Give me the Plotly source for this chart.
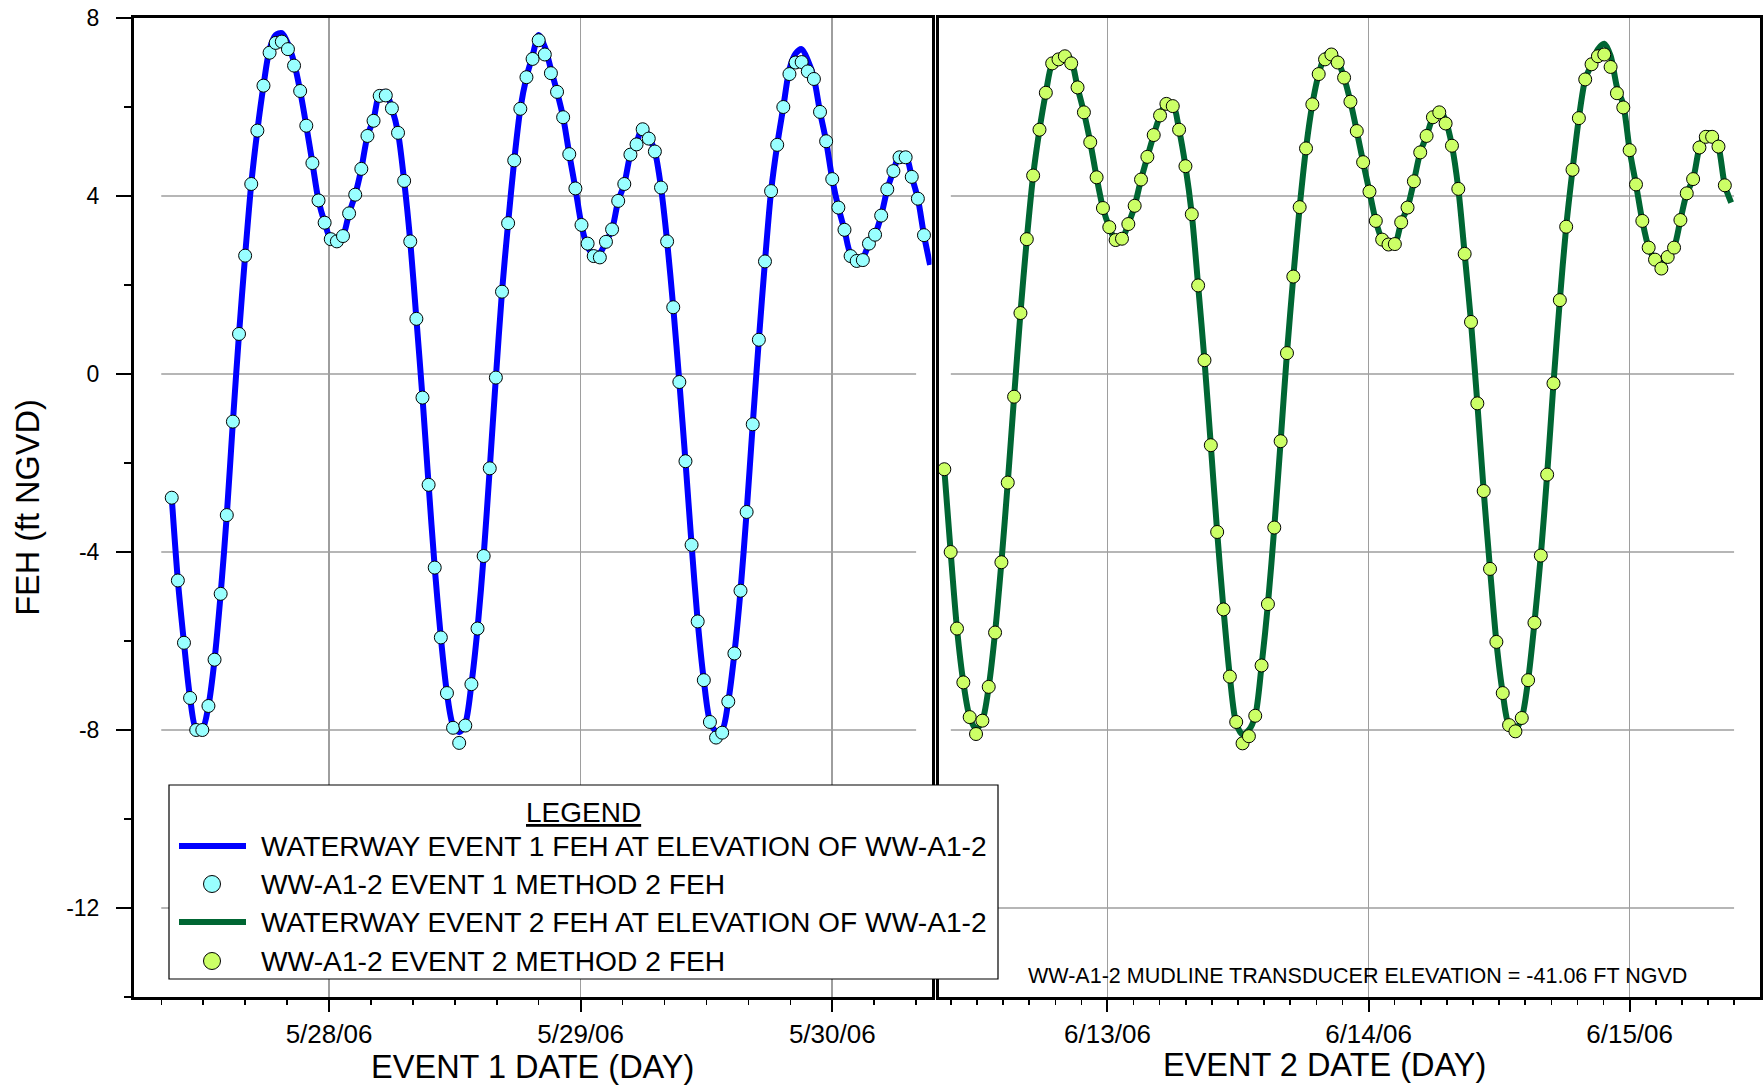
import pandas as pd
import plotly.graph_objects as go

# ---------------- data ----------------
E1_START = "2006-05-27 09:00"
E2_START = "2006-06-12 09:00"
STEP = "35min"

E1_METHOD2 = [
    -2.78, -4.64, -6.04, -7.28, -8.00, -8.00, -7.46, -6.42, -4.94, -3.17,
    -1.07, 0.90, 2.66, 4.27, 5.47, 6.48, 7.22, 7.44, 7.47, 7.30,
    6.93, 6.36, 5.58, 4.74, 3.90, 3.40, 3.03, 2.98, 3.10, 3.61,
    4.03, 4.61, 5.35, 5.69, 6.25, 6.26, 5.97, 5.42, 4.34, 2.98,
    1.24, -0.53, -2.49, -4.35, -5.92, -7.17, -7.95, -8.29, -7.90, -6.97,
    -5.72, -4.09, -2.12, -0.08, 1.85, 3.39, 4.80, 5.96, 6.67, 7.08,
    7.50, 7.18, 6.76, 6.34, 5.77, 4.94, 4.17, 3.35, 2.93, 2.65,
    2.62, 2.97, 3.25, 3.89, 4.27, 4.93, 5.16, 5.50, 5.29, 5.00,
    4.19, 2.98, 1.50, -0.18, -1.96, -3.84, -5.56, -6.88, -7.82, -8.17,
    -8.06, -7.36, -6.28, -4.87, -3.10, -1.13, 0.77, 2.53, 4.11, 5.15,
    6.00, 6.74, 7.00, 7.01, 6.80, 6.63, 5.89, 5.23, 4.38, 3.74,
    3.24, 2.65, 2.54, 2.56, 2.93, 3.13, 3.56, 4.15, 4.56, 4.87,
    4.87, 4.43, 3.94, 3.12,
]

E1_WATERWAY = [
    -2.78, -4.64, -6.04, -7.28, -7.98, -7.98, -7.46, -6.42, -4.94, -3.17,
    -1.07, 0.90, 2.66, 4.27, 5.47, 6.48, 7.30, 7.62, 7.66, 7.42,
    7.00, 6.36, 5.58, 4.74, 3.90, 3.40, 3.03, 2.98, 3.10, 3.61,
    4.03, 4.61, 5.35, 5.72, 6.30, 6.32, 5.97, 5.42, 4.34, 2.98,
    1.24, -0.53, -2.49, -4.35, -5.92, -7.17, -7.90, -8.05, -7.85, -6.97,
    -5.72, -4.09, -2.12, -0.08, 1.85, 3.39, 4.80, 5.96, 6.67, 7.15,
    7.62, 7.35, 6.85, 6.34, 5.77, 4.94, 4.17, 3.35, 2.85, 2.70,
    2.72, 2.97, 3.25, 3.89, 4.27, 4.93, 5.20, 5.56, 5.33, 5.00,
    4.19, 2.98, 1.50, -0.18, -1.96, -3.84, -5.56, -6.88, -7.80, -8.03,
    -8.00, -7.36, -6.28, -4.87, -3.10, -1.13, 0.77, 2.53, 4.11, 5.15,
    6.00, 6.85, 7.20, 7.30, 7.05, 6.65, 5.89, 5.23, 4.38, 3.74,
    3.24, 2.70, 2.62, 2.62, 2.93, 3.13, 3.56, 4.15, 4.56, 4.92,
    4.92, 4.43, 3.94, 3.12, 2.45,
]

E2_METHOD2 = [
    -2.14, -4.00, -5.72, -6.93, -7.71, -8.09, -7.79, -7.03, -5.81, -4.23,
    -2.44, -0.51, 1.37, 3.03, 4.46, 5.49, 6.32, 6.98, 7.07, 7.14,
    6.98, 6.44, 5.88, 5.21, 4.42, 3.73, 3.30, 3.01, 3.04, 3.37,
    3.78, 4.37, 4.88, 5.37, 5.81, 6.07, 6.02, 5.49, 4.67, 3.59,
    1.99, 0.31, -1.60, -3.55, -5.29, -6.80, -7.82, -8.30, -8.14, -7.68,
    -6.55, -5.17, -3.45, -1.51, 0.47, 2.19, 3.75, 5.07, 6.06, 6.74,
    7.07, 7.18, 7.00, 6.66, 6.12, 5.46, 4.76, 4.10, 3.44, 3.02,
    2.91, 2.92, 3.41, 3.74, 4.33, 4.98, 5.35, 5.77, 5.88, 5.63,
    5.13, 4.16, 2.70, 1.17, -0.66, -2.63, -4.38, -6.02, -7.17, -7.89,
    -8.03, -7.73, -6.88, -5.59, -4.08, -2.26, -0.21, 1.66, 3.31, 4.59,
    5.75, 6.62, 6.96, 7.14, 7.18, 6.90, 6.31, 5.99, 5.03, 4.26,
    3.44, 2.84, 2.57, 2.37, 2.63, 2.84, 3.46, 4.06, 4.38, 5.09,
    5.33, 5.33, 5.11, 4.24,
]

E2_WATERWAY = [
    -2.14, -4.00, -5.72, -6.93, -7.71, -7.98, -7.79, -7.03, -5.81, -4.23,
    -2.44, -0.51, 1.37, 3.03, 4.46, 5.49, 6.32, 6.98, 7.12, 7.20,
    7.05, 6.44, 5.88, 5.21, 4.42, 3.73, 3.30, 3.01, 3.04, 3.37,
    3.78, 4.37, 4.88, 5.37, 5.81, 6.10, 6.08, 5.49, 4.67, 3.59,
    1.99, 0.31, -1.60, -3.55, -5.29, -6.80, -7.85, -8.10, -8.00, -7.68,
    -6.55, -5.17, -3.45, -1.51, 0.47, 2.19, 3.75, 5.07, 6.06, 6.74,
    7.15, 7.25, 7.05, 6.66, 6.12, 5.46, 4.76, 4.10, 3.44, 3.02,
    2.91, 2.92, 3.41, 3.74, 4.33, 4.98, 5.35, 5.77, 5.95, 5.70,
    5.13, 4.16, 2.70, 1.17, -0.66, -2.63, -4.38, -6.02, -7.17, -7.90,
    -7.98, -7.73, -6.88, -5.59, -4.08, -2.26, -0.21, 1.66, 3.31, 4.59,
    5.75, 6.62, 6.96, 7.30, 7.42, 7.15, 6.45, 6.05, 5.03, 4.26,
    3.44, 2.84, 2.57, 2.45, 2.63, 2.84, 3.46, 4.06, 4.38, 5.09,
    5.40, 5.40, 5.11, 4.24, 3.85,
]

LEGEND_LABELS = [
    "WATERWAY EVENT 1 FEH AT ELEVATION OF WW-A1-2",
    "WW-A1-2 EVENT 1 METHOD 2 FEH",
    "WATERWAY EVENT 2 FEH AT ELEVATION OF WW-A1-2",
    "WW-A1-2 EVENT 2 METHOD 2 FEH",
]
X1_TITLE = "EVENT 1 DATE (DAY)"
X2_TITLE = "EVENT 2 DATE (DAY)"
Y_TITLE = "FEH (ft NGVD)"
NOTE = "WW-A1-2 MUDLINE TRANSDUCER ELEVATION = -41.06 FT NGVD"
Y_TICKS = [-12, -8, -4, 0, 4, 8]
Y_TICK_TEXT = ["-12", "-8", "-4", "0", "4", "8"]

X1_RANGE = ["2006-05-27 05:24", "2006-05-30 09:28"]
X2_RANGE = ["2006-06-12 08:28", "2006-06-15 11:59"]
Y_RANGE = [-14, 8]
# horizontal grid lines run from the first to the last minor date tick
GRID_SPAN1 = ["2006-05-27 08:00", "2006-05-30 08:00"]
GRID_SPAN2 = ["2006-06-12 09:36", "2006-06-15 09:36"]

# ---------------- styles ----------------
BLUE = "#0000FF"
GREEN = "#006633"
CYAN = "#99FFFF"
LIME = "#CCFF66"
GRID = "#9E9E9E"
FONT = "Liberation Sans, Arial, Helvetica, sans-serif"

# the page body margin is removed (post_script) so the figure fills the window;
# plot area at window pixels x 134..1760, y 18..997
W, H = 1764, 1086
PL, PT, PR = 134, 18, 4
PW = 1760 - PL
PH = 997 - PT
PB = H - PT - PH


def px(x):
    return (x - PL) / PW


def py(y):
    return (PT + PH - y) / PH


t1m = pd.date_range(E1_START, periods=len(E1_METHOD2), freq=STEP)
t1l = pd.date_range(E1_START, periods=len(E1_WATERWAY), freq=STEP)
t2m = pd.date_range(E2_START, periods=len(E2_METHOD2), freq=STEP)
t2l = pd.date_range(E2_START, periods=len(E2_WATERWAY), freq=STEP)

fig = go.Figure()
fig.add_trace(go.Scatter(x=t1l, y=E1_WATERWAY, mode="lines", name=LEGEND_LABELS[0],
                         line=dict(color=BLUE, width=6, shape="spline", smoothing=0.8),
                         xaxis="x", yaxis="y", showlegend=False))
fig.add_trace(go.Scatter(x=t1m, y=E1_METHOD2, mode="markers", name=LEGEND_LABELS[1],
                         marker=dict(size=13, color=CYAN, line=dict(color="black", width=1)),
                         xaxis="x", yaxis="y", showlegend=False))
fig.add_trace(go.Scatter(x=t2l, y=E2_WATERWAY, mode="lines", name=LEGEND_LABELS[2],
                         line=dict(color=GREEN, width=6, shape="spline", smoothing=0.8),
                         xaxis="x2", yaxis="y2", showlegend=False))
fig.add_trace(go.Scatter(x=t2m, y=E2_METHOD2, mode="markers", name=LEGEND_LABELS[3],
                         marker=dict(size=13, color=LIME, line=dict(color="black", width=1)),
                         xaxis="x2", yaxis="y2", showlegend=False))

DAY = 86400000
common_x = dict(
    type="date", showline=True, linecolor="black", linewidth=3, mirror=True,
    ticks="outside", ticklen=12, tickwidth=2, tickcolor="black",
    dtick=DAY, tickformat="%-m/%-d/%y", automargin=False,
    tickfont=dict(family=FONT, size=26, color="black"),
    showgrid=True, gridcolor=GRID, gridwidth=1.6, zeroline=False,
)
fig.update_layout(
    width=W, height=H,
    margin=dict(l=PL, r=PR, t=PT, b=PB, autoexpand=False),
    paper_bgcolor="white", plot_bgcolor="white",
    showlegend=False,
    font=dict(family=FONT, color="black"),
    xaxis=dict(domain=[0, px(931.5)], range=X1_RANGE, anchor="y", tick0="2006-05-28",
               minor=dict(dtick=DAY / 6, tick0="2006-05-27", ticks="outside", ticklen=5,
                          tickwidth=1.5, tickcolor="black", showgrid=False),
               title=dict(text=X1_TITLE, font=dict(family=FONT, size=32.5), standoff=4),
               **common_x),
    xaxis2=dict(domain=[px(938.5), 1], range=X2_RANGE, anchor="y2", tick0="2006-06-13",
                minor=dict(dtick=DAY / 10, tick0="2006-06-12", ticks="outside", ticklen=5,
                           tickwidth=1.5, tickcolor="black", showgrid=False),
                **common_x),
    yaxis=dict(range=Y_RANGE, tickmode="array", tickvals=Y_TICKS, ticktext=Y_TICK_TEXT,
               anchor="x", ticklabeloverflow="allow", automargin=False,
               showline=True, linecolor="black", linewidth=3, mirror=True,
               ticks="outside", ticklen=15, tickwidth=2, tickcolor="black",
               ticklabelstandoff=12,
               tickfont=dict(family=FONT, size=23, color="black"),
               minor=dict(tickmode="linear", tick0=0, dtick=2, ticks="outside", ticklen=7,
                          tickwidth=2, tickcolor="black", showgrid=False),
               showgrid=False, zeroline=False,
               title=dict(text=Y_TITLE, font=dict(family=FONT, size=32.5), standoff=17)),
    yaxis2=dict(range=Y_RANGE, anchor="x2", matches="y", automargin=False,
                showticklabels=False, ticks="",
                showline=True, linecolor="black", linewidth=3, mirror=True,
                showgrid=False, zeroline=False),
)

# ---------------- horizontal grid lines (between first and last minor tick) --------
shapes = []
for (xr, yr, span) in (("x", "y", GRID_SPAN1), ("x2", "y2", GRID_SPAN2)):
    for v in Y_TICKS:
        if Y_RANGE[0] < v < Y_RANGE[1]:
            shapes.append(dict(type="line", xref=xr, yref=yr, x0=span[0], x1=span[1],
                               y0=v, y1=v, line=dict(color=GRID, width=1.6), layer="below"))

# ---------------- legend box (drawn in paper space) ----------------
shapes.append(dict(type="rect", xref="paper", yref="paper",
                   x0=px(169), x1=px(998), y0=py(979), y1=py(785),
                   line=dict(color="black", width=1.2), fillcolor="white", layer="above"))
rows = [846, 884, 922, 961]
styles = [("line", BLUE), ("marker", CYAN), ("line", GREEN), ("marker", LIME)]
for (kind, col), yy in zip(styles, rows):
    if kind == "line":
        shapes.append(dict(type="line", xref="paper", yref="paper",
                           x0=px(179), x1=px(246), y0=py(yy), y1=py(yy),
                           line=dict(color=col, width=6), layer="above"))
    else:
        r = 8.5
        shapes.append(dict(type="circle", xref="paper", yref="paper",
                           x0=px(212 - r), x1=px(212 + r), y0=py(yy + r), y1=py(yy - r),
                           line=dict(color="black", width=1), fillcolor=col, layer="above"))

annotations = [dict(xref="paper", yref="paper", x=px(583.5), y=py(812), text="<u>LEGEND</u>",
                    showarrow=False, xanchor="center", yanchor="middle",
                    font=dict(family=FONT, size=28, color="black"))]
for lab, yy in zip(LEGEND_LABELS, rows):
    annotations.append(dict(xref="paper", yref="paper", x=px(259), y=py(yy), text=lab,
                            showarrow=False, xanchor="left", yanchor="middle",
                            font=dict(family=FONT, size=28.2, color="black")))
annotations.append(dict(xref="paper", yref="paper", x=px(1357), y=py(976), text=NOTE,
                        showarrow=False, xanchor="center", yanchor="middle",
                        font=dict(family=FONT, size=21.5, color="black")))
annotations.append(dict(xref="paper", yref="paper", x=px(1324), y=py(1065), text=X2_TITLE,
                        showarrow=False, xanchor="center", yanchor="middle",
                        font=dict(family=FONT, size=32.5, color="black")))

fig.update_layout(shapes=shapes, annotations=annotations)
fig.write_html("out.html",
               config={"displayModeBar": False, "staticPlot": True},
               post_script="document.body.style.margin='0';document.body.style.overflow='hidden';")
